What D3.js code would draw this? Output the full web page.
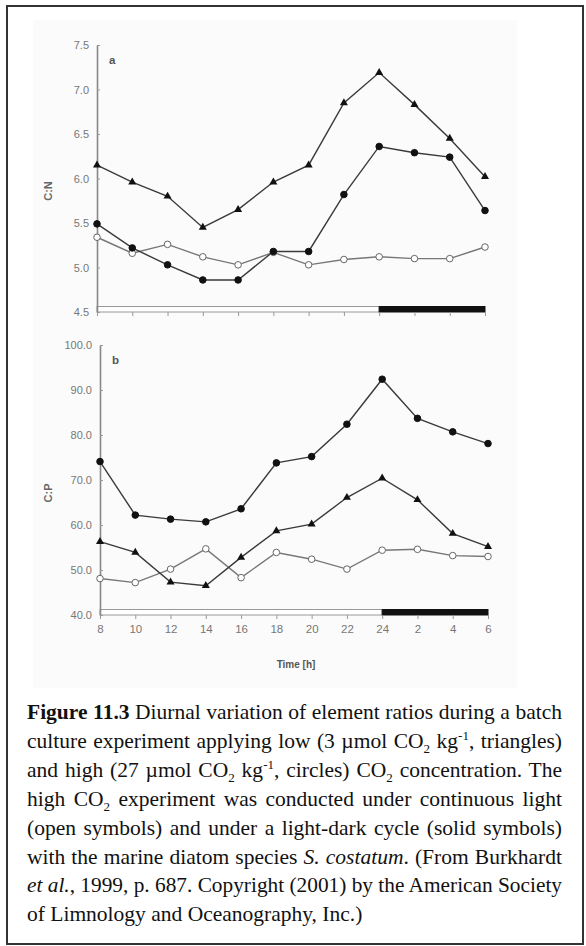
<!DOCTYPE html>
<html>
<head>
<meta charset="utf-8">
<script src="https://cdn.jsdelivr.net/npm/d3@7"></script>
<style>
  body { margin: 0; background: #fff; }
  svg { display: block; }
</style>
</head>
<body>
<div id="chart"></div>
<script>
// canvas size
const width = 586;
const height = 946;

// sampling times (h) over the diurnal cycle
const times = ["8", "10", "12", "14", "16", "18", "20", "22", "24", "2", "4", "6"];

// panel a: C:N
const cnLowLD = [6.15, 5.96, 5.80, 5.45, 5.65, 5.96, 6.15, 6.85, 7.19, 6.83, 6.45, 6.02];
const cnHighLD = [5.49, 5.22, 5.03, 4.86, 4.86, 5.18, 5.18, 5.82, 6.36, 6.29, 6.24, 5.64];
const cnHighCL = [5.34, 5.16, 5.26, 5.12, 5.03, 5.17, 5.03, 5.09, 5.12, 5.10, 5.10, 5.23];
const cnTicks = [4.5, 5.0, 5.5, 6.0, 6.5, 7.0, 7.5];

// panel b: C:P
const cpHighLD = [74.1, 62.2, 61.3, 60.7, 63.6, 73.8, 75.2, 82.4, 92.4, 83.7, 80.7, 78.1];
const cpLowLD = [56.3, 53.9, 47.3, 46.5, 52.8, 58.7, 60.2, 66.1, 70.4, 65.6, 58.1, 55.2];
const cpHighCL = [48.1, 47.2, 50.2, 54.7, 48.3, 53.9, 52.4, 50.2, 54.4, 54.6, 53.2, 53.0];
const cpTicks = [40, 50, 60, 70, 80, 90, 100];

// light / dark phases shown in the bar under each panel
const phases = [{from: "8", to: "24", dark: false}, {from: "24", to: "6", dark: true}];

const svg = d3.select("#chart")
  .append("svg")
  .attr("width", width)
  .attr("height", height);

// outer frame
svg.append("rect")
  .attr("x", 7).attr("y", 6)
  .attr("width", 576).attr("height", 938)
  .attr("fill", "#fff")
  .attr("stroke", "#333")
  .attr("stroke-width", 2);

// faint scanned figure area
svg.append("rect")
  .attr("x", 33).attr("y", 20)
  .attr("width", 484).attr("height", 668)
  .attr("fill", "#fbfbfb");

const tickFont = "'Liberation Sans', Arial, sans-serif";

function drawPanel(p) {
  const x = d3.scalePoint().domain(times).range([p.x0, p.x1]);
  const y = d3.scaleLinear().domain(p.domain).range([p.yBottom, p.yTop]);
  const g = svg.append("g");

  // light-dark bar
  phases.forEach(ph => {
    g.append("rect")
      .attr("x", x(ph.from))
      .attr("y", p.yBottom - 5.5)
      .attr("width", x(ph.to) - x(ph.from))
      .attr("height", 5.5)
      .attr("fill", ph.dark ? "#111" : "#fff")
      .attr("stroke", ph.dark ? "#111" : "#999")
      .attr("stroke-width", 1);
  });

  // y axis, ticks pointing inward
  const yAxis = g.append("g")
    .attr("transform", `translate(${p.x0},0)`)
    .call(d3.axisLeft(y).tickValues(p.ticks).tickFormat(d3.format(".1f"))
      .tickSizeInner(-3).tickSizeOuter(0).tickPadding(8));
  yAxis.select(".domain").attr("stroke", "#888").attr("stroke-width", 1.6);
  yAxis.selectAll(".tick line").attr("stroke", "#999");
  yAxis.selectAll("text").attr("fill", "#777")
    .style("font-family", tickFont).style("font-size", "11px");

  // x axis ticks below the bar
  const xAxis = g.append("g")
    .attr("transform", `translate(0,${p.yBottom})`)
    .call(d3.axisBottom(x).tickSizeInner(4).tickSizeOuter(0).tickPadding(6)
      .tickFormat(p.xLabels ? d => d : ""));
  xAxis.select(".domain").remove();
  xAxis.selectAll(".tick line").attr("stroke", "#999");
  xAxis.selectAll("text").attr("fill", "#777")
    .style("font-family", tickFont).style("font-size", "11.5px");

  // y label
  g.append("text")
    .attr("transform", `translate(${p.labelX},${p.labelY}) rotate(-90)`)
    .attr("text-anchor", "middle")
    .attr("fill", "#666")
    .style("font-family", tickFont).style("font-size", "11px").style("font-weight", "bold")
    .text(p.yLabel);

  // panel letter
  g.append("text")
    .attr("x", p.x0 + 12).attr("y", p.yTop + 19)
    .attr("fill", "#555")
    .style("font-family", tickFont).style("font-size", "11.5px").style("font-weight", "bold")
    .text(p.letter);

  const line = d3.line()
    .x((d, i) => x(times[i]))
    .y(d => y(d));

  p.series.forEach(s => {
    g.append("path")
      .datum(s.values)
      .attr("fill", "none")
      .attr("stroke", s.open ? "#777" : "#3a3a3a")
      .attr("stroke-width", 1.4)
      .attr("d", line);
  });

  p.series.forEach(s => {
    const pts = g.append("g").selectAll("path")
      .data(s.values)
      .enter()
      .append("path")
      .attr("transform", (d, i) => `translate(${x(times[i])},${y(d)})`);
    if (s.shape === "triangle") {
      pts.attr("d", d3.symbol(d3.symbolTriangle, 28)).attr("fill", "#111");
    } else {
      pts.attr("d", d3.symbol(d3.symbolCircle, 34))
        .attr("fill", s.open ? "#fff" : "#111")
        .attr("stroke", s.open ? "#666" : "#111")
        .attr("stroke-width", 1);
    }
  });
}

drawPanel({
  x0: 97, x1: 485, yTop: 45, yBottom: 312,
  domain: [4.5, 7.5], ticks: cnTicks,
  yLabel: "C:N", labelX: 52, labelY: 191, letter: "a", xLabels: false,
  series: [
    {values: cnHighCL, shape: "circle", open: true},
    {values: cnHighLD, shape: "circle", open: false},
    {values: cnLowLD, shape: "triangle", open: false}
  ]
});

drawPanel({
  x0: 100, x1: 488, yTop: 345, yBottom: 615,
  domain: [40, 100], ticks: cpTicks,
  yLabel: "C:P", labelX: 52, labelY: 493, letter: "b", xLabels: true,
  series: [
    {values: cpHighCL, shape: "circle", open: true},
    {values: cpLowLD, shape: "triangle", open: false},
    {values: cpHighLD, shape: "circle", open: false}
  ]
});

// x axis title
svg.append("text")
  .attr("x", 296).attr("y", 668)
  .attr("text-anchor", "middle")
  .attr("fill", "#555")
  .style("font-family", tickFont).style("font-size", "10px").style("font-weight", "bold")
  .text("Time [h]");

// caption, justified line by line
const captionLines = [
  [{t: "Figure 11.3", b: true}, {t: " Diurnal variation of element ratios during a batch"}],
  [{t: "culture experiment applying low (3 µmol CO"}, {t: "2", sub: true}, {t: " kg"}, {t: "-1", sup: true}, {t: ", triangles)"}],
  [{t: "and high (27 µmol CO"}, {t: "2", sub: true}, {t: " kg"}, {t: "-1", sup: true}, {t: ", circles) CO"}, {t: "2", sub: true}, {t: " concentration. The"}],
  [{t: "high CO"}, {t: "2", sub: true}, {t: " experiment was conducted under continuous light"}],
  [{t: "(open symbols) and under a light-dark cycle (solid symbols)"}],
  [{t: "with the marine diatom species "}, {t: "S. costatum", i: true}, {t: ". (From Burkhardt"}],
  [{t: "et al.", i: true}, {t: ", 1999, p. 687. Copyright (2001) by the American Society"}],
  [{t: "of Limnology and Oceanography, Inc.)"}]
];

const capX = 27, capW = 535, capY = 719, capStep = 28.9;

captionLines.forEach((segs, li) => {
  const text = svg.append("text")
    .attr("x", capX)
    .attr("y", capY + li * capStep)
    .attr("fill", "#111")
    .style("font-family", "'Liberation Serif', 'Times New Roman', serif")
    .style("font-size", "21.5px");
  let shift = 0;
  segs.forEach(s => {
    const target = s.sub ? 5 : s.sup ? -8 : 0;
    const ts = text.append("tspan").text(s.t).attr("dy", target - shift);
    shift = target;
    if (s.b) ts.style("font-weight", "bold");
    if (s.i) ts.style("font-style", "italic");
    if (s.sub || s.sup) ts.style("font-size", "13px");
  });
  if (li < captionLines.length - 1) {
    const full = segs.map(s => s.t).join("");
    const spaces = (full.match(/ /g) || []).length;
    const w = text.node().getComputedTextLength();
    if (w <= capW) {
      text.attr("word-spacing", (capW - w) / spaces);
    } else {
      // slightly condense lines that are too long
      text.attr("textLength", capW).attr("lengthAdjust", "spacingAndGlyphs");
    }
  }
});
</script>
</body>
</html>
